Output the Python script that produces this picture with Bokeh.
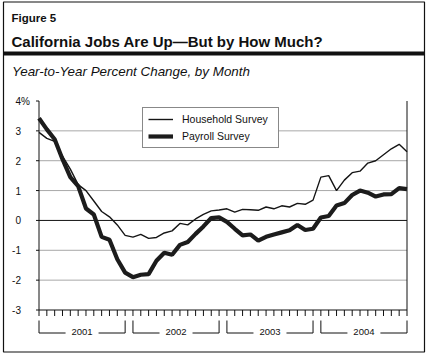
from bokeh.plotting import figure
from bokeh.models import Range1d, Legend, LegendItem
from bokeh.core.properties import value
from bokeh.embed import file_html
from bokeh.resources import INLINE

# ---------------- data ----------------
years = ["2001", "2002", "2003", "2004"]
months = list(range(48))  # Jan 2001 .. Dec 2004
household = [2.95, 2.75, 2.65, 2.15, 1.72, 1.2, 1.0, 0.65, 0.3, 0.12, -0.15, -0.5,
             -0.56, -0.47, -0.6, -0.57, -0.42, -0.35, -0.1, -0.15, 0.05, 0.2, 0.32, 0.35,
             0.39, 0.28, 0.37, 0.36, 0.34, 0.45, 0.39, 0.49, 0.45, 0.57, 0.54, 0.68,
             1.45, 1.5, 1.0, 1.35, 1.6, 1.65, 1.92, 2.0, 2.2, 2.4, 2.55, 2.3]
payroll = [3.42, 3.05, 2.72, 2.05, 1.45, 1.15, 0.4, 0.2, -0.55, -0.65, -1.3, -1.75,
           -1.9, -1.82, -1.8, -1.35, -1.08, -1.15, -0.82, -0.72, -0.45, -0.2, 0.08, 0.1,
           -0.05, -0.28, -0.5, -0.47, -0.68, -0.55, -0.47, -0.4, -0.33, -0.15, -0.32, -0.28,
           0.1, 0.15, 0.5, 0.58, 0.85, 1.0, 0.93, 0.8, 0.87, 0.88, 1.08, 1.05]
y_ticks = [-3, -2, -1, 0, 1, 2, 3, 4]
y_tick_labels = ["-3", "-2", "-1", "0", "1", "2", "3", "4"]
grid_values = [-2, -1, 1, 2, 3]
series_names = ["Household Survey", "Payroll Survey"]
figure_label = "Figure 5"
title = "California Jobs Are Up\u2014But by How Much?"
subtitle = "Year-to-Year Percent Change, by Month"

# ---------------- layout ----------------
W, H = 428, 356
FL, FR, FT, FB = 38.5, 406.5, 100.5, 309.5  # plot-area edges in pixels
X0, X1, Y0, Y1 = 0, 47, -3, 4
PXM = (FR - FL) / (X1 - X0)
PYU = (FB - FT) / (Y1 - Y0)


def dx(px):
    return X0 + (px - FL) / PXM


def dy(py):
    return Y1 - (py - FT) / PYU


FONT = value("Liberation Sans")
BLACK = "#111111"

p = figure(width=W, height=H, output_backend="svg", toolbar_location=None,
           x_range=Range1d(dx(0), dx(W)), y_range=Range1d(dy(H), dy(0)),
           x_axis_type=None, y_axis_type=None,
           min_border=0, min_border_left=0, min_border_right=0,
           min_border_top=0, min_border_bottom=0)
p.outline_line_color = None
p.grid.visible = False
p.background_fill_color = "white"
p.border_fill_color = "white"

# outer frame and header rule
p.quad(left=[dx(3)], right=[dx(424)], top=[dy(1.5)], bottom=[dy(351.5)],
       fill_color=None, line_color=BLACK, line_width=1.2)
p.quad(left=[dx(3)], right=[dx(424)], top=[dy(51)], bottom=[dy(55)],
       fill_color=BLACK, line_color=None)

# header texts
p.text(x=[dx(11)], y=[dy(17.5)], text=[figure_label], text_baseline="alphabetic",
       text_font=FONT, text_font_style="bold", text_font_size="11.5px", text_color=BLACK)
p.text(x=[dx(11)], y=[dy(40.5)], text=[title], text_baseline="alphabetic",
       text_font=FONT, text_font_style="bold", text_font_size="15px", text_color=BLACK)
p.text(x=[dx(11.5)], y=[dy(71)], text=[subtitle], text_baseline="alphabetic",
       text_font=FONT, text_font_style="italic", text_font_size="13.4px", text_color=BLACK)

# grid lines and zero line
p.segment(x0=[X0] * len(grid_values), x1=[X1] * len(grid_values), y0=grid_values,
          y1=grid_values, line_color="#a8a8a8", line_width=1)
p.segment(x0=[X0], x1=[X1], y0=[0], y1=[0], line_color=BLACK, line_width=1)

# axes lines (left, bottom, right)
p.segment(x0=[X0, X0, X1], x1=[X0, X1, X1], y0=[Y0, Y0, Y0], y1=[Y1, Y0, Y1],
          line_color=BLACK, line_width=1)

# x ticks (months)
p.segment(x0=months, x1=months, y0=[Y0] * len(months), y1=[dy(FB + 6)] * len(months),
          line_color=BLACK, line_width=1)

# y ticks and labels
p.segment(x0=[dx(FL - 3)] * len(y_ticks), x1=[X0] * len(y_ticks), y0=y_ticks, y1=y_ticks,
          line_color=BLACK, line_width=1)
p.text(x=[dx(20.5)] * len(y_ticks), y=y_ticks, text=y_tick_labels, text_align="right",
       text_baseline="middle", text_font=FONT, text_font_size="10px", text_color=BLACK)
p.text(x=[dx(20.5)], y=[y_ticks[-1]], text=["%"], text_align="left",
       text_baseline="middle", text_font=FONT, text_font_size="10px", text_color=BLACK)

# year brackets and labels
gap = 16.5 / PXM
top, bot = dy(320), dy(332.5)
xs, ys, cx = [], [], []
for k in range(len(years)):
    s = months[12 * k]
    e = months[12 * k + 11]
    c = (s + e) / 2
    cx.append(c)
    xs += [[s, s, c - gap], [e, e, c + gap]]
    ys += [[top, bot, bot], [top, bot, bot]]
p.multi_line(xs=xs, ys=ys, line_color=BLACK, line_width=1)
p.text(x=cx, y=[dy(331.5)] * len(years), text=years, text_align="center",
       text_baseline="middle", text_font=FONT, text_font_size="9.5px", text_color=BLACK)

# data lines
r_h = p.line(months, household, line_color="#151515", line_width=1.4)
r_p = p.line(months, payroll, line_color="#1c1c1c", line_width=4.2)

legend = Legend(items=[LegendItem(label=series_names[0], renderers=[r_h]),
                       LegendItem(label=series_names[1], renderers=[r_p])],
                location=(142, H - 147.5), orientation="vertical",
                padding=5, spacing=5, margin=0,
                glyph_width=25, glyph_height=12, label_height=12, label_width=91,
                label_standoff=9,
                label_text_font="Liberation Sans", label_text_font_size="10.5px",
                label_text_color=BLACK,
                border_line_color=BLACK, border_line_width=1,
                background_fill_color="white", background_fill_alpha=1)
p.add_layout(legend, "center")

open("out.html", "w").write(file_html(p, INLINE))
